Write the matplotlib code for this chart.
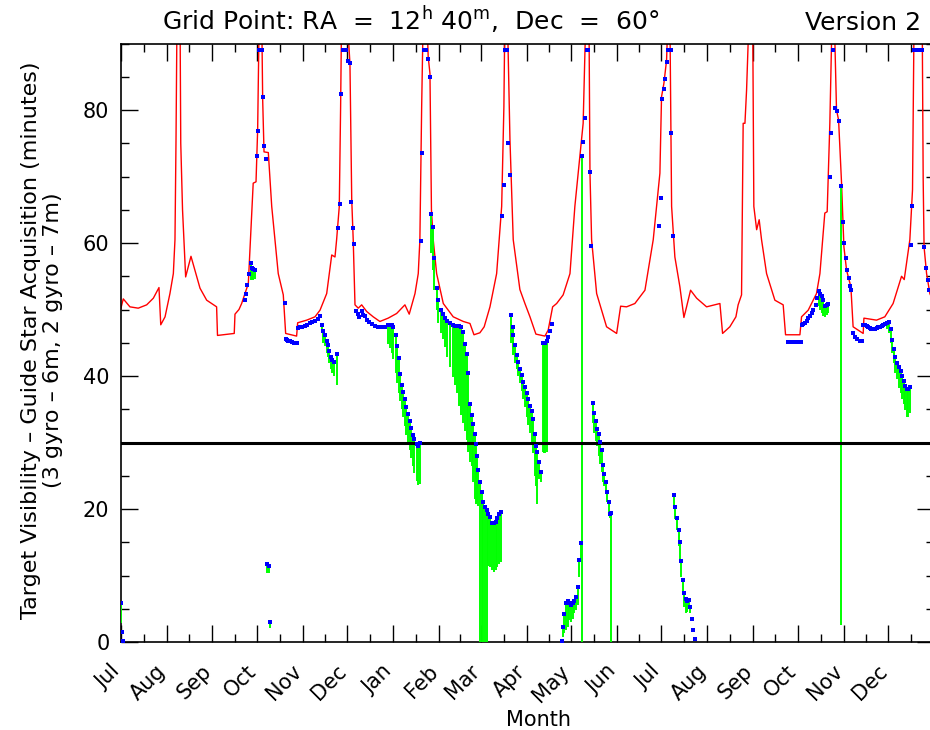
import numpy as np
import matplotlib
matplotlib.use("Agg")
import matplotlib.pyplot as plt
from matplotlib.ticker import FixedLocator, MultipleLocator

plt.rcParams['font.family'] = ['DejaVu Sans']
plt.rcParams['mathtext.fontset'] = 'dejavusans'

# ---------------- data (x = days since 1 July of first year) ----------------
month_names = ["Jul", "Aug", "Sep", "Oct", "Nov", "Dec", "Jan", "Feb", "Mar",
               "Apr", "May", "Jun", "Jul", "Aug", "Sep", "Oct", "Nov", "Dec"]
month_lengths = [31, 31, 30, 31, 30, 31, 31, 28, 31, 30, 31, 30, 31, 31, 30, 31, 30, 31]

# 3-gyro visibility (red curve); values above 90 run off the top of the plot
red_day = [0.0, 1.8, 6.3, 11.9, 17.6, 22.1, 25.9, 27.1, 30.0, 33.3, 35.6, 36.7, 37.4, 38.1,
           40.1, 40.6, 41.8, 43.9, 47.5, 53.6, 58.1, 64.8, 65.4, 76.7, 77.2, 79.9, 81.7,
           86.2, 89.5, 91.4, 92.5, 93.6, 95.2, 95.9, 96.8, 99.7, 102.0, 106.4, 109.8, 111.4,
           118.8, 119.5, 125.6, 131.2, 134.6, 139.1, 142.5, 144.7, 145.8, 147.6, 148.5, 149.2,
           152.6, 154.8, 156.0, 157.0, 158.2, 160.4, 162.7, 166.1, 170.5, 175.0, 180.6, 186.3,
           191.9, 194.8, 198.7, 200.9, 202.0, 203.2, 204.3, 206.6, 207.6, 208.8, 209.8, 211.0,
           213.3, 217.8, 224.5, 231.3, 235.8, 238.5, 242.5, 245.4, 249.3, 253.8, 257.2, 258.7,
           259.4, 261.0, 262.8, 265.0, 269.5, 272.9, 276.3, 280.3, 286.4, 288.6, 291.6, 294.3,
           298.7, 303.3, 306.6, 310.0, 312.2, 314.1, 316.1, 316.8, 317.9, 321.3, 328.0, 334.8,
           337.5, 341.5, 347.1, 353.9, 359.5, 364.0, 365.1, 366.7, 368.5, 369.6, 370.7, 371.9,
           374.1, 377.5, 380.2, 382.0, 384.7, 388.8, 395.5, 404.5, 406.3, 411.2, 415.3, 416.8,
           419.1, 420.2, 421.4, 422.5, 424.3, 426.6, 427.4, 429.3, 431.0, 432.6, 436.0, 441.6,
           447.2, 448.8, 458.5, 459.6, 464.1, 469.7, 472.0, 475.3, 476.9, 478.7, 480.3, 481.6,
           483.2, 484.6, 486.6, 488.2, 490.0, 492.9, 494.4, 501.2, 501.7, 510.2, 515.8, 521.4,
           527.1, 528.9, 532.7, 534.5, 535.6, 541.0, 541.7, 542.3, 544.0, 546.2, 549.0]
red_val = [50.0, 51.6, 50.4, 50.2, 50.7, 51.7, 53.3, 47.7, 48.9, 52.4, 55.4, 60.5, 75.5, 95,
           95, 75.0, 65.0, 54.9, 58.0, 53.2, 51.4, 50.4, 46.1, 46.4, 49.3, 50.0, 50.9,
           53.9, 69.0, 69.2, 77.0, 95, 95, 81.5, 73.7, 73.6, 65.5, 55.4, 52.2, 46.4,
           46.0, 48.0, 48.4, 48.9, 49.9, 52.4, 58.2, 57.9, 60.5, 65.5, 80.5, 95,
           95, 87.0, 66.5, 60.5, 50.7, 50.2, 50.7, 49.7, 48.9, 48.2, 48.7, 49.4,
           50.7, 49.3, 52.4, 55.4, 60.5, 80.5, 95, 95, 88.0, 85.5, 65.0, 60.5,
           55.4, 50.9, 48.9, 48.2, 47.9, 46.2, 46.5, 47.4, 50.4, 55.4, 65.5, 80.5,
           95, 95, 75.5, 60.5, 53.0, 50.9, 48.9, 46.3, 46.0, 46.9, 50.4, 50.9,
           52.2, 55.4, 65.5, 73.0, 78.0, 95, 95, 70.5, 60.5, 52.4, 47.4, 46.4,
           50.5, 50.4, 50.9, 52.9, 60.5, 70.5, 82.0, 84.0, 87.5, 95, 95, 65.5,
           57.9, 53.4, 48.8, 50.4, 52.9, 51.7, 50.4, 50.9, 46.4, 47.4, 48.9, 50.7,
           52.2, 78.0, 78.0, 83.0, 95, 95, 65.5, 62.0, 63.5, 60.5, 55.4, 51.4,
           50.7, 46.2, 46.2, 48.9, 49.9, 52.4, 55.4, 64.5, 64.7, 78.0, 95, 95,
           80.0, 78.5, 69.0, 59.4, 55.9, 53.4, 47.4, 46.4, 48.7, 48.4, 48.9, 50.9,
           55.0, 54.5, 60.5, 68.0, 95, 95, 69.5, 59.4, 55.4, 52.4, 51.0]

# 2-gyro visibility (blue points)
blue_day = [0.0, 0.7, 1.4,
            83.7, 84.6, 85.5, 86.6, 87.8, 88.7, 89.5, 90.9, 91.8, 92.9, 93.6, 94.3, 94.9, 95.6,
            95.9, 96.8, 97.9,
            98.6, 99.9, 100.8,
            110.7, 111.4, 112.3, 113.2, 114.3, 115.7, 117.0, 118.8,
            119.5, 121.1, 122.7, 124.4, 126.1, 127.8, 129.5, 131.2, 132.9, 134.6, 135.7, 136.8,
            137.9, 139.1, 140.0, 140.8, 141.8, 142.9, 144.0, 145.8,
            146.9, 148.1, 148.7, 149.9, 151.0, 152.1, 153.7, 154.8, 155.7, 156.8, 157.7,
            158.8, 160.0, 161.1, 162.7, 163.8, 164.9, 166.1, 167.8, 169.4, 171.7, 173.4, 175.0,
            176.7, 178.4, 180.6, 181.8, 182.9, 184.0, 185.6, 186.7, 187.9, 188.7, 189.7, 190.6,
            191.7, 192.8, 194.1, 195.1, 196.0, 197.1, 198.2, 199.8, 200.9, 202.0,
            202.7, 203.6, 204.9, 206.1, 207.6, 208.8,
            209.5, 210.6, 211.7, 213.3, 214.4, 216.0, 217.4, 218.9, 220.5, 222.3, 224.1, 225.7,
            227.2, 228.6, 229.7, 230.9, 232.4, 233.6, 234.6, 235.8, 236.9, 238.0, 238.9, 239.6,
            240.3, 241.4, 242.5, 243.7, 244.8, 245.9, 247.1, 248.1, 249.3, 250.4, 252.0, 253.3,
            254.2, 255.5, 256.5,
            257.6, 258.5, 259.4, 260.2, 261.0, 261.6, 262.6,
            263.6, 264.6, 265.0, 266.1, 267.3, 268.4, 269.5, 270.7, 271.7, 272.9, 274.0, 275.1,
            276.3, 277.4, 278.5, 279.4, 280.3, 281.3, 282.5, 283.7, 284.8, 285.7, 286.6, 287.5,
            288.6, 289.8, 290.9,
            297.7, 298.3, 299.4, 300.6, 301.7, 302.8, 303.9, 305.1, 306.2, 307.3, 308.5, 309.5,
            310.7, 311.6, 312.2, 313.6, 314.7, 315.6, 316.6, 317.5,
            318.6, 319.7, 320.6, 321.5, 322.6, 323.5, 324.7, 325.5, 326.4, 327.3, 328.4, 329.4,
            330.3, 330.9,
            363.5, 364.5, 365.5, 366.5, 367.4, 368.5, 369.6, 370.4, 371.2, 371.6, 372.6,
            373.2, 374.3, 375.5, 376.6, 377.3, 378.4, 379.3, 380.4, 381.5, 382.4, 383.4, 384.2,
            385.4, 386.5, 387.6,
            450.2, 451.4, 452.7, 454.0, 455.3, 456.6, 457.8, 459.1,
            459.6, 460.7, 461.8, 463.0, 464.1, 465.2, 466.4, 467.4, 469.1, 470.1, 471.3, 472.2,
            473.1, 474.2, 475.6, 476.5, 477.6,
            478.5, 479.4, 481.0, 482.3, 483.2, 484.8, 486.3, 487.3, 488.1, 489.3, 490.4, 491.5,
            492.4, 493.3,
            494.0, 495.6, 497.1, 498.9, 500.1,
            501.2, 502.3, 503.5, 504.6, 505.7, 506.8, 507.9, 509.1, 510.2, 511.3, 512.4, 513.6,
            514.7, 515.8, 517.0, 518.7, 519.7, 520.8, 521.9, 522.8, 523.8, 525.1, 526.4, 527.5,
            528.5, 529.5, 530.5, 531.6, 532.7,
            533.4, 534.3, 535.6, 536.6, 537.6, 538.6, 539.6, 540.6, 542.1, 543.5, 544.8, 545.7]
blue_val = [5.9, 1.5, 0.2,
            51.4, 52.3, 53.7, 55.3, 57.0, 56.3, 56.1, 56.0, 73.1, 76.8, 89, 89, 89, 89,
            82.0, 74.6, 72.7,
            11.8, 11.5, 3.0,
            51.0, 45.6, 45.4, 45.3, 45.2, 45.1, 45.0, 45.0,
            47.2, 47.3, 47.4, 47.5, 47.7, 47.9, 48.1, 48.3, 48.6, 49.0, 47.7, 46.7,
            46.2, 45.3, 44.6, 43.7, 42.9, 42.4, 42.1, 43.3,
            62.3, 65.8, 82.4, 89, 89, 89, 87.3, 87.0, 66.1, 62.2, 59.9,
            49.7, 49.3, 48.9, 49.8, 49.2, 49.0, 48.4, 48.1, 47.8, 47.5, 47.4, 47.3,
            47.3, 47.3, 47.6, 47.6, 47.6, 47.3, 46.1, 44.5, 42.7, 40.3, 38.6, 37.6,
            36.5, 35.4, 34.3, 33.3, 32.2, 31.2, 30.5, 29.7, 29.5, 30.0,
            60.3, 73.6, 89, 89, 87.6, 84.9,
            64.4, 62.4, 57.7, 53.3, 51.4, 50.0, 49.3, 48.7, 48.2, 47.9, 47.7, 47.5,
            47.5, 47.5, 47.3, 46.6, 44.8, 43.3, 40.4, 35.8, 34.1, 32.8, 31.3, 29.8,
            27.9, 25.9, 24.1, 22.5, 21.1, 20.3, 19.8, 19.3, 18.8, 17.9, 17.9, 18.1,
            18.6, 19.3, 19.6,
            64.1, 68.7, 89, 89, 89, 75.1, 70.3,
            49.1, 47.4, 46.2, 44.7, 43.2, 42.1, 41.1, 40.2, 39.1, 38.3, 37.4, 36.5,
            35.5, 34.7, 33.5, 31.3, 29.5, 28.5, 27.0, 25.6, 45.0, 45.0, 45.0, 45.2,
            45.9, 46.8, 47.8,
            0.2, 2.3, 4.2, 5.9, 6.2, 5.9, 5.6, 5.9, 6.2, 6.7, 8.2, 12.3,
            14.9, 73.1, 75.2, 78.8, 89, 89, 70.7, 59.5,
            36.0, 34.5, 33.3, 32.1, 31.3, 30.1, 28.8, 26.6, 25.3, 24.1, 22.6, 21.1,
            19.3, 19.4,
            62.5, 66.8, 81.7, 83.1, 84.7, 87.2, 89, 89, 89, 76.6, 61.0,
            22.1, 20.3, 18.6, 16.9, 15.1, 12.2, 9.3, 7.4, 6.4, 6.2, 6.3, 5.3,
            3.5, 1.8, 0.4,
            45.1, 45.1, 45.1, 45.1, 45.1, 45.1, 45.1, 45.1,
            47.6, 47.8, 48.0, 48.3, 48.7, 49.0, 49.5, 50.0, 50.7, 51.7, 52.8, 52.4,
            52.0, 51.4, 50.5, 50.7, 50.8,
            69.9, 76.6, 89, 80.3, 79.8, 78.3, 68.6, 63.2, 60.0, 57.7, 55.9, 54.7,
            53.6, 52.9,
            46.4, 45.9, 45.6, 45.3, 45.2,
            47.7, 47.6, 47.5, 47.3, 47.2, 47.1, 47.1, 47.1, 47.2, 47.3, 47.4, 47.5,
            47.7, 47.8, 47.9, 48.1, 47.0, 45.4, 44.0, 42.9, 42.0, 41.4, 40.8, 40.0,
            39.3, 38.5, 38.0, 38.1, 38.4,
            59.7, 65.6, 89, 89, 89, 89, 89, 89, 59.4, 56.2, 54.4, 53.0]

# green range under selected points: day, top value, low value
green_day = [0.0,
             87.8, 88.7, 89.5, 90.9,
             98.6, 99.9, 100.8,
             135.7, 136.8, 137.9, 139.1, 140.0, 140.8, 141.8, 142.9, 144.0, 145.8,
             180.6, 181.8, 182.9, 184.0, 185.6, 186.7, 187.9, 188.7, 189.7, 190.6, 191.7, 192.8,
             194.1, 195.1, 196.0, 197.1, 198.2, 199.8, 200.9, 202.0,
             209.5, 210.6, 211.7, 213.3, 214.4, 216.0, 217.4, 218.9, 220.5, 222.3, 224.1, 225.7,
             227.2, 228.6, 229.7, 230.9, 232.4, 233.6, 234.6, 235.8, 236.9, 238.0, 238.9, 239.6,
             240.3, 241.4, 242.5, 243.7, 244.8, 245.9, 247.1, 248.1, 249.3, 250.4, 252.0, 253.3,
             254.2, 255.5, 256.5,
             263.6, 264.6, 265.0, 266.1, 267.3, 268.4, 269.5, 270.7, 271.7, 272.9, 274.0, 275.1,
             276.3, 277.4, 278.5, 279.4, 280.3, 281.3, 282.5, 283.7, 284.8, 285.7, 286.6, 287.5,
             298.3, 299.4, 300.6, 301.7, 302.8, 303.9, 305.1, 306.2, 307.3, 308.5, 309.5, 310.7,
             311.6,
             318.6, 319.7, 320.6, 321.5, 322.6, 323.5, 324.7, 325.5, 326.4, 327.3, 328.4, 329.4,
             330.3, 330.9,
             373.2, 374.3, 375.5, 376.6, 377.3, 378.4, 379.3, 380.4, 381.5, 382.4, 383.4, 384.2,
             471.3, 472.2, 473.1, 474.2, 475.6, 476.5, 477.6,
             486.3,
             517.0, 518.7, 519.7, 520.8, 521.9, 522.8, 523.8, 525.1, 526.4, 527.5, 528.5, 529.5,
             530.5, 531.6, 532.7]
green_top = [5.9,
             57.0, 56.3, 56.1, 56.0,
             11.8, 11.5, 3.0,
             47.7, 46.7, 46.2, 45.3, 44.6, 43.7, 42.9, 42.4, 42.1, 43.3,
             47.6, 47.6, 47.6, 47.3, 46.1, 44.5, 42.7, 40.3, 38.6, 37.6, 36.5, 35.4,
             34.3, 33.3, 32.2, 31.2, 30.5, 29.7, 29.5, 30.0,
             64.4, 62.4, 57.7, 53.3, 51.4, 50.0, 49.3, 48.7, 48.2, 47.9, 47.7, 47.5,
             47.5, 47.5, 47.3, 46.6, 44.8, 43.3, 40.4, 35.8, 34.1, 32.8, 31.3, 29.8,
             27.9, 25.9, 24.1, 22.5, 21.1, 20.3, 19.8, 19.3, 18.8, 17.9, 17.9, 18.1,
             18.6, 19.3, 19.6,
             49.1, 47.4, 46.2, 44.7, 43.2, 42.1, 41.1, 40.2, 39.1, 38.3, 37.4, 36.5,
             35.5, 34.7, 33.5, 31.3, 29.5, 28.5, 27.0, 25.6, 45.0, 45.0, 45.0, 45.2,
             2.3, 4.2, 5.9, 6.2, 5.9, 5.6, 5.9, 6.2, 6.7, 8.2, 12.3, 14.9,
             73.1,
             36.0, 34.5, 33.3, 32.1, 31.3, 30.1, 28.8, 26.6, 25.3, 24.1, 22.6, 21.1,
             19.3, 19.4,
             22.1, 20.3, 18.6, 16.9, 15.1, 12.2, 9.3, 7.4, 6.4, 6.2, 6.3, 5.3,
             52.8, 52.4, 52.0, 51.4, 50.5, 50.7, 50.8,
             68.6,
             47.9, 48.1, 47.0, 45.4, 44.0, 42.9, 42.0, 41.4, 40.8, 40.0, 39.3, 38.5,
             38.0, 38.1, 38.4]
green_low = [2.9,
             54.5, 54.4, 54.4, 54.6,
             10.4, 10.4, 2.1,
             46.5, 45.0, 44.5, 43.5, 42.8, 42.0, 41.0, 40.5, 40.0, 38.6,
             44.8, 44.2, 43.5, 42.5, 40.5, 39.0, 37.5, 36.2, 35.0, 33.8, 32.5, 31.2,
             30.0, 28.8, 27.6, 26.5, 25.4, 24.2, 23.6, 23.8,
             58.5, 56.0, 53.0, 50.0, 48.0, 46.5, 45.6, 44.3, 42.8, 41.4, 39.9, 38.6,
             37.4, 35.5, 34.2, 33.0, 31.8, 30.4, 28.5, 27.0, 26.5, 24.0, 21.5, 20.8,
             21.0, 20.5, 0.0, 0.0, 0.0, 0.0, 0.0, 11.5, 11.3, 10.8, 10.5, 10.8,
             11.3, 11.8, 12.0,
             45.0, 44.0, 43.2, 42.0, 41.0, 40.0, 39.0, 37.8, 36.5, 35.3, 33.9, 32.6,
             31.4, 30.0, 28.4, 25.0, 23.5, 20.8, 24.5, 24.0, 28.5, 28.4, 28.4, 28.6,
             0.8, 1.4, 1.8, 2.2, 3.3, 3.0, 3.5, 4.4, 4.8, 5.6, 9.8, 12.6,
             0.0,
             32.9, 31.5, 30.2, 29.4, 28.0, 26.8, 25.5, 24.0, 23.5, 22.5, 21.0, 19.5,
             18.6, 0.0,
             20.5, 18.5, 16.8, 14.5, 12.4, 9.8, 7.4, 5.2, 4.3, 4.5, 5.3, 4.3,
             50.5, 50.0, 49.5, 49.0, 48.9, 49.2, 49.5,
             2.5,
             47.0, 46.5, 45.0, 43.5, 42.0, 40.5, 39.5, 38.2, 37.4, 36.5, 35.8, 34.9,
             33.9, 33.9, 34.5]

threshold = 30  # minutes

y_ticks = [0, 20, 40, 60, 80]

# ---------------- plotting ----------------
fig = plt.figure(figsize=(9.3, 7.3), dpi=100)
ax = fig.add_axes([120.6 / 930, 1 - 642 / 730, (934 - 120.6) / 930, (642 - 43.5) / 730])

ax.plot(red_day, red_val, color='#ff0000', lw=1.0, zorder=2)
ax.vlines(green_day, green_low, green_top, color='#00ff00', lw=1.4, zorder=3)
ax.axhline(threshold, color='black', lw=2.2, zorder=4)
ax.plot(blue_day, blue_val, linestyle='none', marker='s', ms=2.3, mew=0,
        color='#0000ff', zorder=5)

ax.set_xlim(0, 549)
ax.set_ylim(0, 90)

month_starts = np.concatenate([[0], np.cumsum(month_lengths)])
mid_months = month_starts[:-1] + np.array(month_lengths) / 2.0
ax.xaxis.set_major_locator(FixedLocator(month_starts))
ax.xaxis.set_minor_locator(FixedLocator(mid_months))
ax.set_xticklabels(month_names + [""], rotation=45, ha='right', va='baseline',
                   rotation_mode='anchor', fontsize=15)
ax.yaxis.set_major_locator(FixedLocator(y_ticks))
ax.yaxis.set_minor_locator(MultipleLocator(5))
ax.set_yticklabels([str(v) for v in y_ticks], fontsize=15)

ax.tick_params(which='both', direction='in', top=True, right=True, width=1.0, color='black')
ax.tick_params(which='major', length=12.5)
ax.tick_params(which='minor', length=6)
ax.tick_params(axis='x', which='major', pad=22)
ax.tick_params(axis='y', which='major', pad=8)
for s in ax.spines.values():
    s.set_linewidth(1.2)

fig.text(411 / 930, 1 - 30 / 730,
         r'Grid Point: RA  =  12$^{\mathrm{h}}$ 40$^{\mathrm{m}}$,  Dec  =  60°',
         ha='center', va='baseline', fontsize=18)
fig.text(921 / 930, 1 - 30 / 730, 'Version 2', ha='right', va='baseline', fontsize=18)
fig.text(42 / 930, 1 - 340 / 730,
         'Target Visibility – Guide Star Acquisition (minutes)\n(3 gyro – 6m, 2 gyro – 7m)',
         rotation=90, ha='center', va='center', multialignment='center', fontsize=16,
         linespacing=1.15)
fig.text(538 / 930, 1 - 720 / 730, 'Month', ha='center', va='center', fontsize=15)

fig.savefig('out.png', dpi=100)
